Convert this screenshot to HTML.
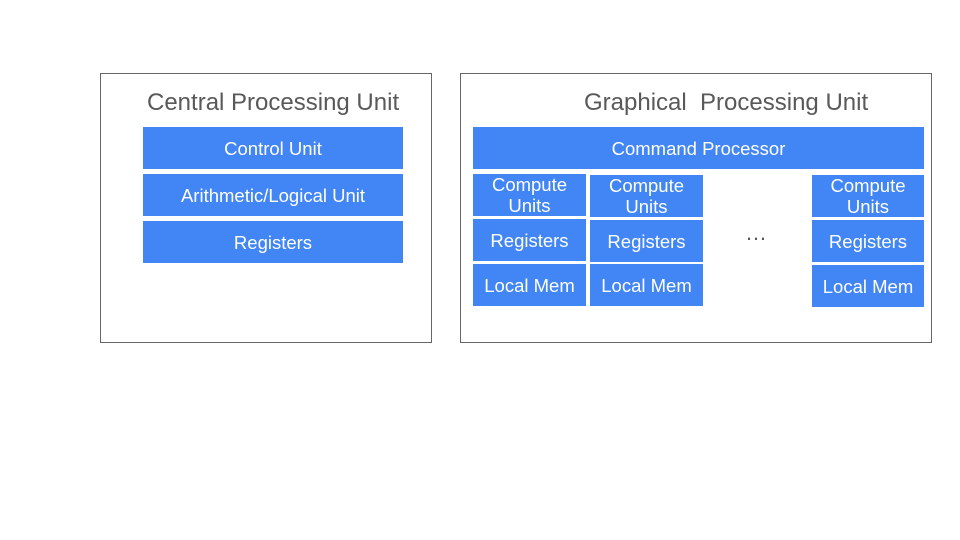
<!DOCTYPE html>
<html><head><style>
body{margin:0;width:960px;height:540px;background:#fff;position:relative;font-family:"Liberation Sans",sans-serif;overflow:hidden}
.box{position:absolute;border:1px solid #666;box-sizing:border-box}
.t{position:absolute;color:#595959;font-size:24px;white-space:nowrap}
.b{position:absolute;background:#4285f4;color:#fff;font-size:18.5px;display:flex;align-items:center;justify-content:center;text-align:center;line-height:21px}
</style></head><body>
<div class="box" style="left:100px;top:73px;width:332px;height:270px"></div>
<div class="box" style="left:460px;top:73px;width:472px;height:270px"></div>
<div class="t" style="left:147px;top:89px">Central Processing Unit</div>
<div class="t" style="left:584px;top:89px">Graphical&nbsp; Processing Unit</div>
<div class="b" style="left:143px;top:127px;width:260px;height:42px">Control Unit</div>
<div class="b" style="left:143px;top:174px;width:260px;height:42px">Arithmetic/Logical Unit</div>
<div class="b" style="left:143px;top:221px;width:260px;height:42px">Registers</div>
<div class="b" style="left:473px;top:127px;width:451px;height:42px">Command Processor</div>
<div class="b" style="left:473px;top:174px;width:113px;height:42px">Compute<br>Units</div>
<div class="b" style="left:473px;top:219px;width:113px;height:42px">Registers</div>
<div class="b" style="left:473px;top:264px;width:113px;height:42px">Local Mem</div>
<div class="b" style="left:590px;top:175px;width:113px;height:42px">Compute<br>Units</div>
<div class="b" style="left:590px;top:220px;width:113px;height:42px">Registers</div>
<div class="b" style="left:590px;top:264px;width:113px;height:42px">Local Mem</div>
<div class="b" style="left:812px;top:175px;width:112px;height:42px">Compute<br>Units</div>
<div class="b" style="left:812px;top:220px;width:112px;height:42px">Registers</div>
<div class="b" style="left:812px;top:265px;width:112px;height:42px">Local Mem</div>
<div style="position:absolute;left:745px;top:220px;font-size:22px;color:#595959">…</div>
</body></html>
